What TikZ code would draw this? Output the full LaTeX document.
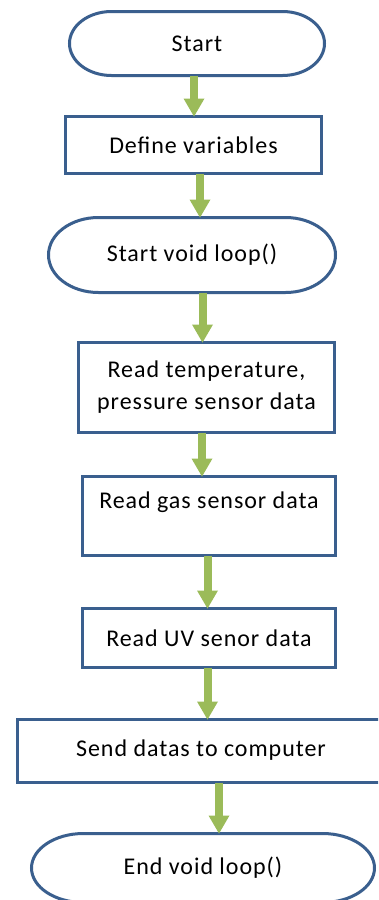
\documentclass[tikz,border=0pt]{standalone}
\usepackage{fontspec}
\setmainfont{Carlito}[LetterSpace=4]
\usetikzlibrary{arrows.meta}
\definecolor{bord}{HTML}{3A5F8E}
\definecolor{grn}{HTML}{9BBB59}
\tikzset{
  txt/.style={inner sep=0pt, outer sep=0pt, align=center, font=\fontsize{24}{32}\selectfont},
  box/.style={txt, draw=bord, line width=3pt},
  term/.style={txt},
  flow/.style={draw=grn, line width=8pt, -{Triangle[width=21pt,length=18pt,line width=0pt,fill=grn]}},
  termline/.style={draw=bord, line width=3pt}
}
\newcommand\termdraw[3]{%
  \draw[termline] ([xshift=#2]#1.north west) -- ([xshift=-#2]#1.north east)
    arc[start angle=90,end angle=-90,x radius=#2,y radius=#3]
    -- ([xshift=#2]#1.south west)
    arc[start angle=270,end angle=90,x radius=#2,y radius=#3] -- cycle;}
\begin{document}
\begin{tikzpicture}[x=1pt,y=-1pt]
\useasboundingbox (0,0) rectangle (378,900);
\fill[white] (0,0) rectangle (378,900);
\clip (0,0) rectangle (378,900);

\node[term, minimum width=255pt, minimum height=64pt] (st) at (197,43.5) {Start};
\termdraw{st}{42pt}{32pt}
\node[box, minimum width=256pt, minimum height=57pt] (def) at (193.5,145) {Define variables};
\node[term, minimum width=287pt, minimum height=75pt] (loop) at (192,255) {Start void loop()};
\termdraw{loop}{50pt}{37.5pt}
\node[box, minimum width=256pt, minimum height=90pt] (temp) at (206.5,387.5) {Read temperature,\\pressure sensor data};
\node[box, minimum width=253pt, minimum height=79pt] (gas) at (209,516) {Read gas sensor data\\\mbox{}};
\node[box, minimum width=253pt, minimum height=59pt] (uv) at (209,638) {Read UV senor data};
\node[box, minimum width=367pt, minimum height=63pt] (send) at (201,751) {\raisebox{6pt}{Send datas to computer}};
\node[term, minimum width=343pt, minimum height=69pt] (end) at (203,868) {End void loop()};
\termdraw{end}{52pt}{34.5pt}

\coordinate (a1) at (194,0);
\coordinate (a2) at (200,0);
\coordinate (a3) at (202.5,0);
\coordinate (a4) at (202,0);
\coordinate (a5) at (207.5,0);
\coordinate (a6) at (207.5,0);
\coordinate (a7) at (219,0);
\draw[flow] (st.south -| a1) -- (def.north -| a1);
\draw[flow] (def.south -| a2) -- (loop.north -| a2);
\draw[flow] (loop.south -| a3) -- (temp.north -| a3);
\draw[flow] (temp.south -| a4) -- (gas.north -| a4);
\draw[flow] (gas.south -| a5) -- (uv.north -| a5);
\draw[flow] (uv.south -| a6) -- (send.north -| a6);
\draw[flow] (send.south -| a7) -- (end.north -| a7);
\end{tikzpicture}
\end{document}
